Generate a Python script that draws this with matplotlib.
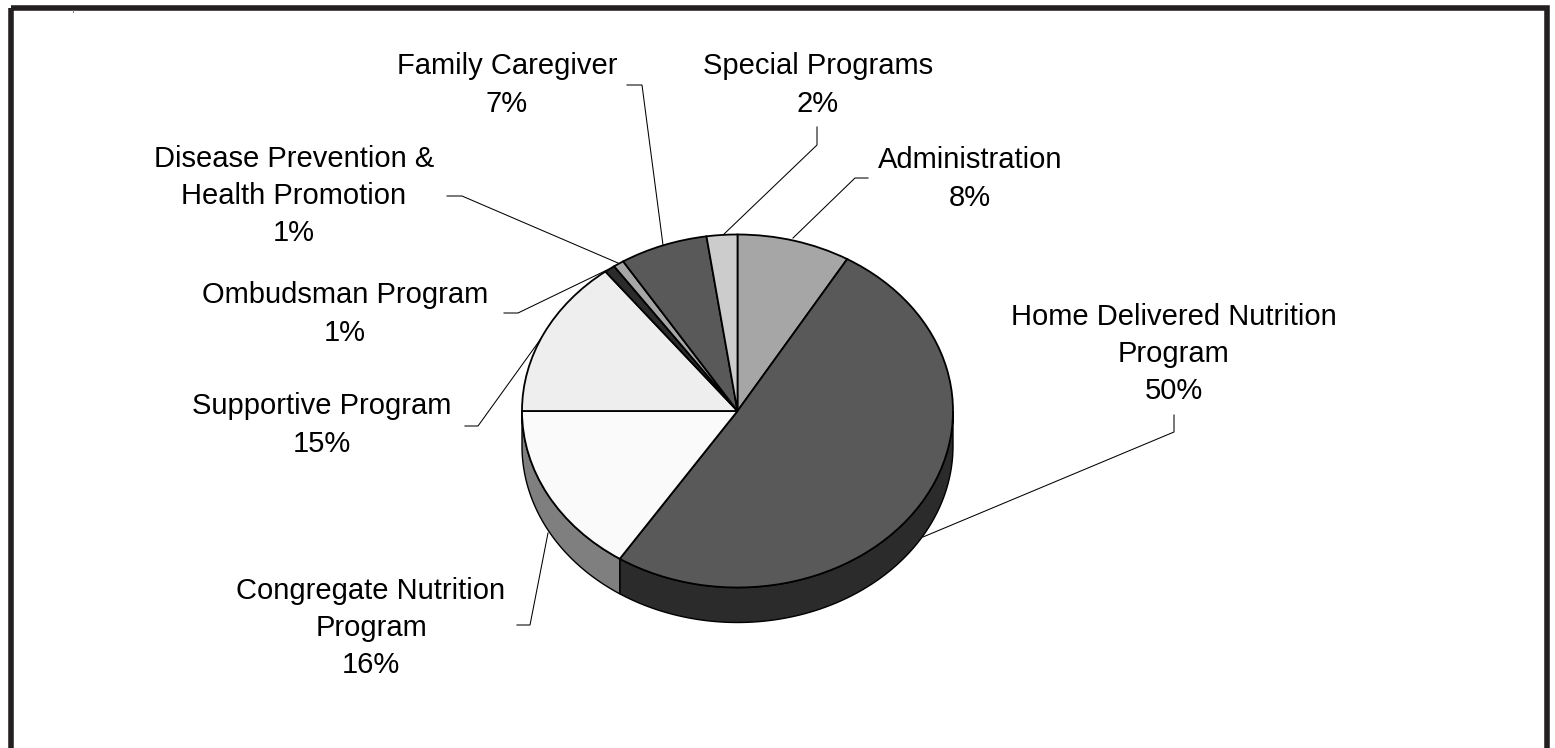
"""Pie chart of program spending, drawn with a fake 3D side"""

import numpy as np
import matplotlib
matplotlib.use('Agg')
import matplotlib.pyplot as plt
from matplotlib.patches import Rectangle

W, H = 1555, 748

# data
labels = ['Administration', 'Home Delivered Nutrition\nProgram', 'Congregate Nutrition\nProgram',
          'Supportive Program', 'Ombudsman Program', 'Disease Prevention &\nHealth Promotion',
          'Family Caregiver', 'Special Programs']
percent_text = ['8%', '50%', '16%', '15%', '1%', '1%', '7%', '2%']
slice_sizes = [8.5, 50.7, 15.8, 14.5, 0.8, 0.8, 6.6, 2.3]
top_colors = ['#a6a6a6', '#595959', '#fafafa', '#eeeeee', '#2b2b2b', '#a6a6a6', '#595959', '#cccccc']
side_colors = ['#7f7f7f', '#2b2b2b', '#7f7f7f', '#b3b3b3', '#202020', '#7f7f7f', '#2b2b2b', '#999999']

# layout in pixels
label_xy = [(970, 179), (1174, 354), (371, 628), (322, 425), (345, 314), (294, 196), (507, 85), (818, 85)]
leaders = [[(868, 178), (855, 178), (793, 238)],
           [(1174, 415), (1174, 432), (923, 537)],
           [(517, 625), (530, 625), (548, 533)],
           [(465, 426), (478, 426), (545, 333)],
           [(504, 313), (518, 313), (607, 270)],
           [(447, 196), (462, 196), (618, 263)],
           [(627, 85), (642, 85), (663, 245)],
           [(817, 127), (817, 145), (722, 236)]]
cx, cy, rx, ry, depth = 737.5, 411, 215.5, 176.5, 35

plt.rcParams['font.family'] = ['Liberation Sans', 'DejaVu Sans']
fig = plt.figure(figsize=(W / 100, H / 100), dpi=100)

# full figure axes in pixel units for border, text and leader lines
ax = fig.add_axes([0, 0, 1, 1])
ax.set_xlim(0, W)
ax.set_ylim(H, 0)
ax.axis('off')
ax.add_patch(Rectangle((10.7, 7.7), 1536, 780, fill=False, ec='#231f20', lw=4))
ax.plot([73, 73], [10, 12], color='#777777', lw=0.7)

for pts in leaders:
    xs, ys = zip(*pts)
    ax.plot(xs, ys, color='black', lw=0.75, solid_joinstyle='miter')

for (x, y), name, pct in zip(label_xy, labels, percent_text):
    ax.text(x, y, name + '\n' + pct, ha='center', va='center', fontsize=21, linespacing=1.42, color='black')

# pie axes, unit circle stretched to the ellipse
pie_ax = fig.add_axes([(cx - rx) / W, 1 - (cy + ry) / H, 2 * rx / W, 2 * ry / H])
pie_ax.patch.set_alpha(0)

edges = np.cumsum([0] + slice_sizes) / sum(slice_sizes) * 360
d = depth / ry
for a, b, c in zip(edges[:-1], edges[1:], side_colors):
    a, b = max(a, 90), min(b, 270)
    if a >= b:
        continue
    t = np.radians(np.linspace(a, b, 150))
    xs = np.concatenate([np.sin(t), np.sin(t[::-1])])
    ys = np.concatenate([np.cos(t), np.cos(t[::-1]) - d])
    pie_ax.fill(xs, ys, facecolor=c, edgecolor='black', lw=1.0, clip_on=False, zorder=1)

wedges, _ = pie_ax.pie(slice_sizes, colors=top_colors, startangle=90, counterclock=False,
                       wedgeprops={'edgecolor': 'black', 'linewidth': 1.3, 'zorder': 2, 'clip_on': False})
pie_ax.set_aspect('auto')
pie_ax.set_xlim(-1, 1)
pie_ax.set_ylim(-1, 1)
pie_ax.axis('off')

fig.savefig('out.png', dpi=100)
